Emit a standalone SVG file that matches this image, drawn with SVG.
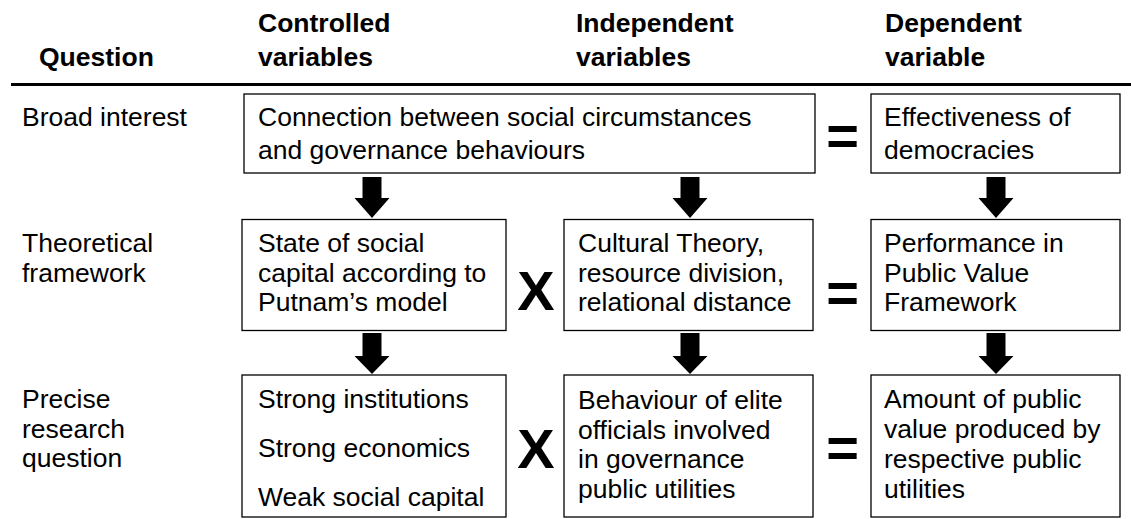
<svg xmlns="http://www.w3.org/2000/svg" width="1131" height="519" viewBox="0 0 1131 519">
<style>
  text { font-family: "Liberation Sans", Arial, sans-serif; fill: #000; }
  .hd { font-size: 26.5px; font-weight: bold; }
  .tx { font-size: 26.5px; }
  .op { font-size: 56px; font-weight: bold; text-anchor: middle; }
  .box { fill: #fff; stroke: #000; stroke-width: 1.3; }
  .arrow { fill: #000; stroke: none; }
</style>
<rect width="1131" height="519" fill="#fff"/>

<g id="headers">
  <text class="hd" x="39" y="66">Question</text>
  <text class="hd" x="258" y="32">Controlled</text>
  <text class="hd" x="258" y="66">variables</text>
  <text class="hd" x="576" y="32">Independent</text>
  <text class="hd" x="576" y="66">variables</text>
  <text class="hd" x="885" y="32">Dependent</text>
  <text class="hd" x="885" y="66">variable</text>
  <line x1="11" y1="84.5" x2="1131" y2="84.5" stroke="#000" stroke-width="3"/>
</g>

<g id="row-labels">
  <text class="tx" x="22" y="126">Broad interest</text>
  <text class="tx" x="22" y="252">Theoretical</text>
  <text class="tx" x="22" y="282">framework</text>
  <text class="tx" x="22" y="408">Precise</text>
  <text class="tx" x="22" y="438">research</text>
  <text class="tx" x="22" y="467">question</text>
</g>

<g id="node-broad-interest">
  <rect class="box" x="244" y="94" width="571" height="79"/>
  <text class="tx" x="258" y="126">Connection between social circumstances</text>
  <text class="tx" x="258" y="159">and governance behaviours</text>
</g>
<g id="node-effectiveness">
  <rect class="box" x="871" y="94" width="249" height="79"/>
  <text class="tx" x="884" y="126">Effectiveness of</text>
  <text class="tx" x="884" y="159">democracies</text>
</g>

<g id="node-social-capital">
  <rect class="box" x="242" y="219.5" width="264" height="111"/>
  <text class="tx" x="258" y="252">State of social</text>
  <text class="tx" x="258" y="282">capital according to</text>
  <text class="tx" x="258" y="311">Putnam’s model</text>
</g>
<g id="node-cultural-theory">
  <rect class="box" x="564" y="219.5" width="249" height="111"/>
  <text class="tx" x="578" y="252">Cultural Theory,</text>
  <text class="tx" x="578" y="282">resource division,</text>
  <text class="tx" x="578" y="311">relational distance</text>
</g>
<g id="node-performance">
  <rect class="box" x="871" y="219.5" width="249" height="111"/>
  <text class="tx" x="884" y="252">Performance in</text>
  <text class="tx" x="884" y="282">Public Value</text>
  <text class="tx" x="884" y="311">Framework</text>
</g>

<g id="node-controlled-precise">
  <rect class="box" x="242" y="375" width="264" height="142"/>
  <text class="tx" x="258" y="408">Strong institutions</text>
  <text class="tx" x="258" y="457">Strong economics</text>
  <text class="tx" x="258" y="506">Weak social capital</text>
</g>
<g id="node-elite-behaviour">
  <rect class="box" x="564" y="375" width="249" height="142"/>
  <text class="tx" x="578" y="409">Behaviour of elite</text>
  <text class="tx" x="578" y="439">officials involved</text>
  <text class="tx" x="578" y="468">in governance</text>
  <text class="tx" x="578" y="498">public utilities</text>
</g>
<g id="node-public-value">
  <rect class="box" x="871" y="375" width="249" height="142"/>
  <text class="tx" x="884" y="408">Amount of public</text>
  <text class="tx" x="884" y="438">value produced by</text>
  <text class="tx" x="884" y="468">respective public</text>
  <text class="tx" x="884" y="498">utilities</text>
</g>

<g id="operators">
  <text class="op" x="842.5" y="155">=</text>
  <text class="op" x="536" y="310">X</text>
  <text class="op" x="842.5" y="312">=</text>
  <text class="op" x="536" y="468">X</text>
  <text class="op" x="842.5" y="467">=</text>
</g>

<g id="connectors">
  <polygon class="arrow" points="362.5,177 381.5,177 381.5,198 389.5,198 372,218 354.5,198 362.5,198"/>
  <polygon class="arrow" points="680.5,177 699.5,177 699.5,198 707.5,198 690,218 672.5,198 680.5,198"/>
  <polygon class="arrow" points="986.5,177 1005.5,177 1005.5,198 1013.5,198 996,218 978.5,198 986.5,198"/>
  <polygon class="arrow" points="362.5,333 381.5,333 381.5,356 389.5,356 372,374 354.5,356 362.5,356"/>
  <polygon class="arrow" points="680.5,333 699.5,333 699.5,356 707.5,356 690,374 672.5,356 680.5,356"/>
  <polygon class="arrow" points="986.5,333 1005.5,333 1005.5,356 1013.5,356 996,374 978.5,356 986.5,356"/>
</g>
</svg>
